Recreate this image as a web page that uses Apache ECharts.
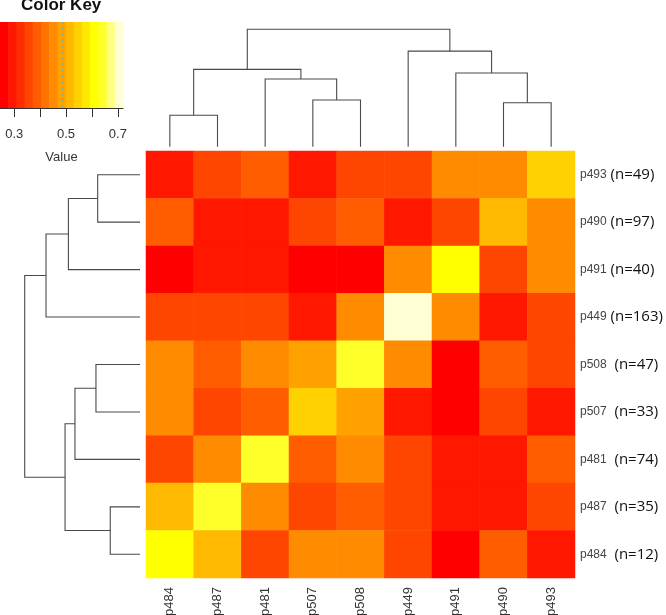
<!DOCTYPE html>
<html><head><meta charset="utf-8">
<script src="https://cdn.jsdelivr.net/npm/echarts@6/dist/echarts.min.js"></script>
<style>html,body{margin:0;padding:0;background:#fff}#c{width:666px;height:615px}</style>
</head><body><div id="c"></div>
<script>
// ---- data ----
const rowLabels = ['p493 (n=49)','p490 (n=97)','p491 (n=40)','p449 (n=163)','p508  (n=47)','p507  (n=33)','p481  (n=74)','p487  (n=35)','p484  (n=12)'];
const colLabels = ['p484','p487','p481','p507','p508','p449','p491','p490','p493'];
// values[row][col], rows top -> bottom, cols left -> right
const values = [
  [0.29, 0.36, 0.39, 0.29, 0.35, 0.36, 0.45, 0.45, 0.55],
  [0.39, 0.29, 0.29, 0.36, 0.38, 0.29, 0.35, 0.51, 0.45],
  [0.25, 0.30, 0.29, 0.26, 0.26, 0.45, 0.61, 0.36, 0.45],
  [0.35, 0.35, 0.36, 0.30, 0.45, 0.72, 0.44, 0.29, 0.36],
  [0.45, 0.39, 0.45, 0.48, 0.64, 0.45, 0.26, 0.38, 0.36],
  [0.45, 0.36, 0.39, 0.55, 0.48, 0.29, 0.26, 0.35, 0.30],
  [0.36, 0.45, 0.64, 0.39, 0.45, 0.35, 0.29, 0.29, 0.39],
  [0.51, 0.64, 0.45, 0.36, 0.38, 0.35, 0.29, 0.29, 0.36],
  [0.61, 0.52, 0.36, 0.45, 0.45, 0.35, 0.25, 0.39, 0.30]
];
const breaks = [0.245,0.2767,0.3083,0.34,0.3717,0.4033,0.435,0.4667,0.4983,0.53,0.5617,0.5933,0.625,0.6567,0.6883,0.72];
const keyColors = ['#FF0000','#FF1700','#FF2E00','#FF4600','#FF5D00','#FF7400','#FF8B00','#FFA200','#FFB900','#FFD100','#FFE800','#FFFF00','#FFFF2A','#FFFF80','#FFFFD5'];
const keyTicks = [0.3,0.4,0.5,0.6,0.7];
const keyTickLabels = [0.3,0.5,0.7];
const keyMarker = 0.487;
// dendrogram merges: [left, right, height]; 'mK' refers to merge K
const colMerges = [
  ['p484','p487',0.2675],
  ['p507','p508',0.398],
  ['p481','m1',0.577],
  ['m0','m2',0.659],
  ['p490','p493',0.375],
  ['p491','m4',0.628],
  ['p449','m5',0.814],
  ['m3','m6',1.0]
];
const rowMerges = [
  ['p493','p490',0.367],
  ['p491','m0',0.621],
  ['p449','m1',0.815],
  ['p508','p507',0.382],
  ['m3','p481',0.564],
  ['p487','p484',0.258],
  ['m4','m5',0.650],
  ['m2','m6',1.0]
];

// ---- build ----
const rowNames = rowLabels.map(s => s.split(' ')[0]);
function dendro(order, merges) {
  const pos = {}, ht = {};
  order.forEach((n, i) => { pos[n] = i + 0.5; ht[n] = 0; });
  return merges.map((m, k) => {
    const [a, b, h] = m;
    const item = [pos[a], ht[a], pos[b], ht[b], h];
    pos['m' + k] = (pos[a] + pos[b]) / 2; ht['m' + k] = h;
    return item;
  });
}
const colSeg = dendro(colLabels, colMerges);
const rowSeg = dendro(rowNames, rowMerges);

const heatData = [];
values.forEach((row, r) => row.forEach((v, c) => heatData.push([c, r, v])));
const pieces = keyColors.map((col, i) => i === keyColors.length - 1
  ? { gte: breaks[i], lte: breaks[i + 1], color: col }
  : { gte: breaks[i], lt: breaks[i + 1], color: col });
const keyData = keyColors.map((col, i) => [breaks[i], breaks[i + 1], i]);

const LINE = '#4a4a4a';
const FONT = 'Liberation Sans, Arial, sans-serif';

const chart = echarts.init(document.getElementById('c'), null, { renderer: 'canvas' });
chart.setOption({
  backgroundColor: '#fff',
  animation: false,
  title: {
    text: 'Color Key', left: 21, top: -3, padding: 0,
    textStyle: { fontSize: 17, fontWeight: 'bold', color: '#111', fontFamily: FONT }
  },
  grid: [
    { left: 0, top: 22, width: 123, height: 86, outerBoundsMode: 'none' },      // key
    { left: 146, top: 29.3, width: 429, height: 117.4, outerBoundsMode: 'none' }, // top dendro
    { left: 24.7, top: 151, width: 115.3, height: 427, outerBoundsMode: 'none' }, // left dendro
    { left: 146, top: 151, width: 429, height: 427, outerBoundsMode: 'none' }     // heatmap
  ],
  xAxis: [
    { gridIndex: 0, type: 'value', min: breaks[0], max: breaks[breaks.length - 1],
      splitLine: { show: false },
      axisLine: { show: true, onZero: false, lineStyle: { color: '#333', width: 1 } },
      axisTick: { show: true, customValues: keyTicks, length: 9, lineStyle: { color: '#333' } },
      axisLabel: { customValues: keyTickLabels, margin: 20, fontSize: 13, color: '#333', fontFamily: FONT },
      name: 'Value', nameLocation: 'middle', nameGap: 43,
      nameTextStyle: { fontSize: 13, color: '#333', fontFamily: FONT } },
    { gridIndex: 1, type: 'value', min: 0, max: 9, show: false },
    { gridIndex: 2, type: 'value', min: 0, max: 1, inverse: true, show: false },
    { gridIndex: 3, type: 'category', data: colLabels, position: 'bottom',
      axisLine: { show: false }, axisTick: { show: false },
      axisLabel: { rotate: 90, margin: 9, fontSize: 13, color: '#333', fontFamily: FONT, interval: 0 } }
  ],
  yAxis: [
    { gridIndex: 0, type: 'value', min: 0, max: 1, show: false },
    { gridIndex: 1, type: 'value', min: 0, max: 1, show: false },
    { gridIndex: 2, type: 'value', min: 0, max: 9, inverse: true, show: false },
    { gridIndex: 3, type: 'category', data: rowLabels, inverse: true, position: 'right',
      axisLine: { show: false }, axisTick: { show: false },
      axisLabel: {
        margin: 5, interval: 0,
        formatter: s => { const i = s.indexOf(' '); return '{a|' + s.slice(0, i) + '}{b|' + s.slice(i) + '}'; },
        rich: {
          a: { fontSize: 12, color: '#444', fontFamily: FONT },
          b: { fontSize: 15, color: '#111', fontFamily: 'Open Sans, sans-serif' }
        }
      } }
  ],
  visualMap: { show: false, type: 'piecewise', seriesIndex: 3, dimension: 2, pieces: pieces },
  series: [
    { type: 'custom', xAxisIndex: 0, yAxisIndex: 0, data: keyData, silent: true,
      renderItem: (p, api) => {
        const a = api.coord([api.value(0), 1]);
        const b = api.coord([api.value(1), 0]);
        return { type: 'rect', shape: { x: a[0], y: a[1], width: b[0] - a[0] + 0.6, height: b[1] - a[1] },
                 style: { fill: keyColors[api.value(2)] } };
      } },
    { type: 'line', xAxisIndex: 0, yAxisIndex: 0, data: [[keyMarker, 0], [keyMarker, 1]],
      symbol: 'none', silent: true, lineStyle: { color: '#7fb596', width: 1.5, type: [3, 3] } },
    { type: 'custom', xAxisIndex: 1, yAxisIndex: 1, data: colSeg, silent: true,
      renderItem: (p, api) => {
        const xa = api.value(0), ya = api.value(1), xb = api.value(2), yb = api.value(3), h = api.value(4);
        return { type: 'polyline',
          shape: { points: [api.coord([xa, ya]), api.coord([xa, h]), api.coord([xb, h]), api.coord([xb, yb])] },
          style: { stroke: LINE, lineWidth: 1.1, fill: null } };
      } },
    { type: 'heatmap', xAxisIndex: 3, yAxisIndex: 3, data: heatData, silent: true,
      itemStyle: { borderWidth: 0 } },
    { type: 'custom', xAxisIndex: 2, yAxisIndex: 2, data: rowSeg, silent: true,
      renderItem: (p, api) => {
        const pa = api.value(0), ha = api.value(1), pb = api.value(2), hb = api.value(3), h = api.value(4);
        return { type: 'polyline',
          shape: { points: [api.coord([ha, pa]), api.coord([h, pa]), api.coord([h, pb]), api.coord([hb, pb])] },
          style: { stroke: LINE, lineWidth: 1.1, fill: null } };
      } }
  ]
});
</script></body></html>
